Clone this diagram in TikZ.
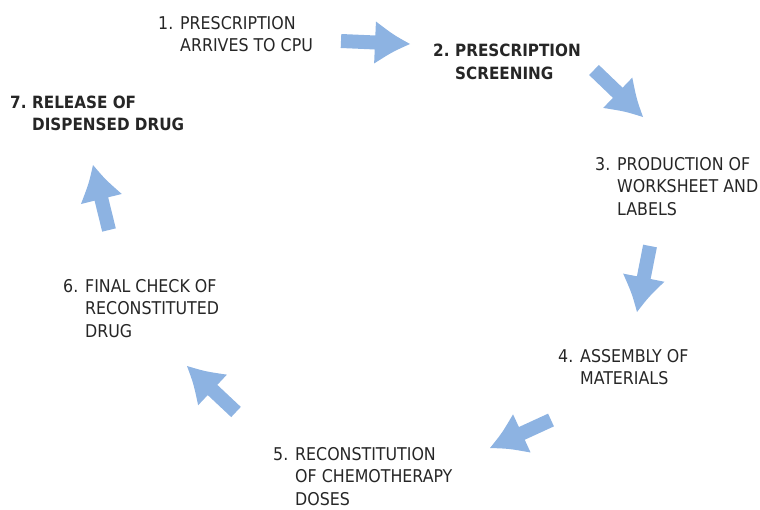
\documentclass[tikz,border=0pt]{standalone}
\usepackage{fontspec}
\setmainfont{DejaVu Sans Condensed}
\usetikzlibrary{calc}

\definecolor{arrowblue}{HTML}{8DB3E2}
\definecolor{textgray}{HTML}{262626}

% number in a fixed column, lines hang under the text
\newcommand{\numtext}[2]{\makebox[22pt][l]{#1}\begin{tabular}[t]{@{}l@{}}#2\end{tabular}}

% block arrow from (#1-tail) to (#1-tip) with a concave head
\newcommand{\blockarrow}[1]{%
  \coordinate (#1-h) at ($(#1-tip)!35pt!(#1-tail)$);
  \coordinate (#1-m) at ($(#1-tip)!17pt!(#1-tail)$);
  \fill[arrowblue]
    ($(#1-tail)!7pt!90:(#1-tip)$) -- ($(#1-h)!7pt!-90:(#1-tail)$)
    -- ($(#1-h)!21pt!-90:(#1-tail)$)
    .. controls ($(#1-m)!8.5pt!-90:(#1-tail)$) .. (#1-tip)
    .. controls ($(#1-m)!8.5pt!90:(#1-tail)$) .. ($(#1-h)!21pt!90:(#1-tail)$)
    -- ($(#1-h)!7pt!90:(#1-tail)$) -- ($(#1-tail)!7pt!-90:(#1-tip)$) -- cycle;}

\begin{document}
\begin{tikzpicture}[x=1pt, y=-1pt,
    stage/.style={anchor=base west, inner sep=0pt, text=textgray,
      font=\fontsize{17.6}{22.5}\selectfont},
    keystage/.style={stage, font=\fontsize{16.9}{22.5}\selectfont\bfseries}
  ]
  \useasboundingbox (0,0) rectangle (760,509);

  % Stages round the cycle
  \node[stage] (s1) at (158,29.3) {\numtext{1.}{PRESCRIPTION\\ARRIVES TO CPU}};
  \node[keystage] (s2) at (433,56.7) {\numtext{2.}{PRESCRIPTION\\SCREENING}};
  \node[stage] (s3) at (595,170) {\numtext{3.}{PRODUCTION OF\\WORKSHEET AND\\LABELS}};
  \node[stage] (s4) at (558,362) {\numtext{4.}{ASSEMBLY OF\\MATERIALS}};
  \node[stage] (s5) at (273,460) {\numtext{5.}{RECONSTITUTION\\OF CHEMOTHERAPY\\DOSES}};
  \node[stage] (s6) at (63,292) {\numtext{6.}{FINAL CHECK OF\\RECONSTITUTED\\DRUG}};
  \node[keystage] (s7) at (10,108) {\numtext{7.}{RELEASE OF\\DISPENSED DRUG}};

  % Arrow ends
  \coordinate (arr1-tail) at (341,41);  \coordinate (arr1-tip) at (410,44);
  \coordinate (arr2-tail) at (594,70);  \coordinate (arr2-tip) at (643,117);
  \coordinate (arr3-tail) at (650,246); \coordinate (arr3-tip) at (637,312);
  \coordinate (arr4-tail) at (551,420); \coordinate (arr4-tip) at (490,448);
  \coordinate (arr5-tail) at (236,412); \coordinate (arr5-tip) at (187,366);
  \coordinate (arr6-tail) at (109,230); \coordinate (arr6-tip) at (93,165);

  % Arrows
  \blockarrow{arr1}
  \blockarrow{arr2}
  \blockarrow{arr3}
  \blockarrow{arr4}
  \blockarrow{arr5}
  \blockarrow{arr6}

\end{tikzpicture}
\end{document}
